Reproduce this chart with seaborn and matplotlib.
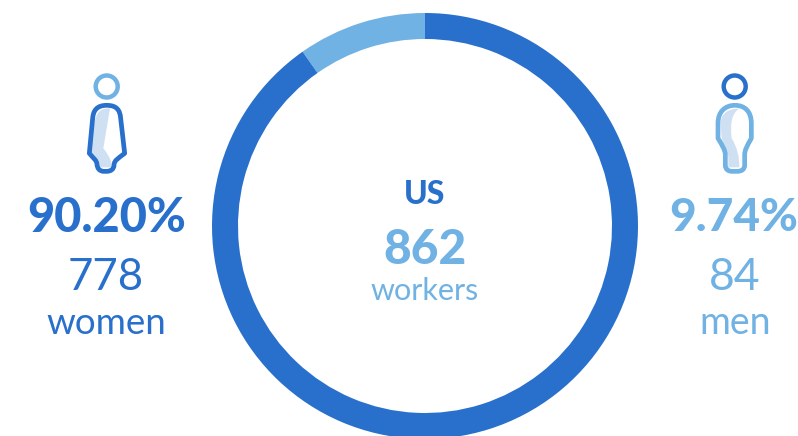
import matplotlib
matplotlib.use("Agg")
import matplotlib.pyplot as plt
import seaborn as sns
from matplotlib.patches import PathPatch, Circle
from matplotlib.path import Path

groups = ["men", "women"]
counts = [84, 778]
shares = ["9.74%", "90.20%"]
total = 862
region = "US"

DARK = "#2870cb"
LIGHT = "#70b2e3"
SHADE = "#cfe0f2"
W, H = 798, 436

sns.set_theme(style="white")
plt.rcParams["font.family"] = ["Lato", "DejaVu Sans"]

fig = plt.figure(figsize=(W / 100, H / 100), dpi=100, facecolor="white")
ax = fig.add_axes([0, 0, 1, 1])
ax.pie(counts, colors=[LIGHT, DARK], startangle=90, counterclock=True,
       center=(425, H - 226), radius=213, frame=False,
       wedgeprops=dict(width=26, linewidth=0))
ax.set_xlim(0, W)
ax.set_ylim(0, H)
ax.set_aspect("equal")
ax.axis("off")


def T(x, y, s, size, color, weight="normal"):
    ax.text(x, H - y, s, fontsize=size, color=color, fontweight=weight,
            ha="center", va="center_baseline", clip_on=False)


def build(points):
    """points: start, then (c1, c2, end) cubic or single line points, in screen pixels"""
    verts, codes = [], []
    for i, p in enumerate(points):
        if i == 0:
            verts.append((p[0], H - p[1])); codes.append(Path.MOVETO)
        elif len(p) == 2:
            verts.append((p[0], H - p[1])); codes.append(Path.LINETO)
        else:
            for j in range(0, 6, 2):
                verts.append((p[j], H - p[j + 1])); codes.append(Path.CURVE4)
    verts.append(verts[0]); codes.append(Path.CLOSEPOLY)
    return Path(verts, codes)


def zoom1(x, y):
    return x / 3, 60 + y / 3


def zoom2(x, y):
    return 650 + x / 3, 60 + y / 3


def mk(f, seq):
    out = []
    for s in seq:
        o = []
        for k in range(0, len(s), 2):
            o.extend(f(s[k], s[k + 1]))
        out.append(tuple(o))
    return out


woman_shade = mk(zoom1, [(330, 145), (310, 265), (330, 290, 335, 305, 335, 322),
                         (300, 322), (280, 320, 300, 300, 272, 278), (282, 170, 285, 145, 330, 145)])
woman = mk(zoom1, [(320, 136), (350, 136, 360, 150, 362, 175), (374, 280), (355, 295, 343, 300, 342, 315),
                   (342, 328, 332, 334, 320, 334), (312, 334), (298, 334, 292, 325, 291, 313),
                   (290, 300, 280, 295, 268, 280), (278, 175), (280, 150, 292, 136, 320, 136)])
man_shade = mk(zoom2, [(268, 146), (245, 160, 240, 190, 245, 235), (262, 262, 268, 290, 268, 322),
                       (235, 322), (235, 290), (215, 235), (212, 190),
                       (212, 165, 230, 145, 268, 146)])
man = mk(zoom2, [(255, 136), (285, 136, 304, 155, 304, 190), (304, 235), (290, 260, 284, 270, 284, 285),
                 (284, 315), (284, 328, 275, 334, 262, 334), (247, 334), (234, 334, 226, 328, 226, 315),
                 (226, 285), (226, 270, 216, 255, 204, 235), (204, 190), (204, 155, 225, 136, 255, 136)])

ax.add_patch(PathPatch(build(woman_shade), fc=SHADE, ec="none"))
ax.add_patch(PathPatch(build(woman), fc="none", ec=DARK, lw=3.4, joinstyle="round"))
ax.add_patch(Circle((106.7, H - 86.5), 11, fc="none", ec=LIGHT, lw=3.2))
ax.add_patch(PathPatch(build(man_shade), fc=SHADE, ec="none"))
ax.add_patch(PathPatch(build(man), fc="none", ec=LIGHT, lw=3.4, joinstyle="round"))
ax.add_patch(Circle((734.7, H - 86.5), 11, fc="none", ec=DARK, lw=3.2))

T(107, 214, shares[1], 33.8, DARK, "black")
T(106, 273, str(counts[1]), 31.5, DARK)
T(106, 320, groups[1], 26.5, DARK)

T(733.5, 214, shares[0], 33, LIGHT, "black")
T(735, 273, str(counts[0]), 32, LIGHT)
T(735, 320, groups[0], 27, LIGHT)

T(425, 192, region, 23, DARK, "black")
T(425, 246, str(total), 34.5, LIGHT, "black")
T(425, 289, "workers", 22, LIGHT)

fig.savefig("out.png", dpi=100, facecolor="white")
